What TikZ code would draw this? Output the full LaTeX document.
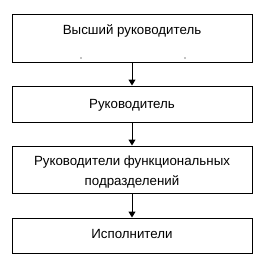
\documentclass[tikz,border=0pt]{standalone}
\usepackage{fontspec}
\setmainfont{Liberation Sans}
\usetikzlibrary{arrows.meta}
\begin{document}
\begin{tikzpicture}[x=1pt,y=-1pt,
  box/.style={draw,line width=1pt,minimum width=240pt,inner sep=0pt},
  lbl/.style={font=\fontsize{13.3}{20}\selectfont,align=center,inner sep=0pt},
  conn/.style={line width=1pt,-{Triangle[length=6pt,width=7pt]}}]
\useasboundingbox (0,0) rectangle (265,265);
\node[box,minimum height=48pt] (b1) at (132,38) {};
\node[box,minimum height=36pt] (b2) at (132,104) {};
\node[box,minimum height=47pt] (b3) at (132,169.5) {};
\node[box,minimum height=35pt] (b4) at (132,235.5) {};
\node[lbl] (t1) at (132,31) {Высший руководитель};
\fill (81,58) circle (0.7pt) (185,58) circle (0.7pt);
\node[lbl] (t2) at (132,105) {Руководитель};
\node[lbl] (t3) at (132,172) {Руководители функциональных\\подразделений};
\node[lbl] (t4) at (132,234) {Исполнители};
\draw[conn] (b1.south) -- (b2.north);
\draw[conn] (b2.south) -- (b3.north);
\draw[conn] (b3.south) -- (b4.north);
\end{tikzpicture}
\end{document}
